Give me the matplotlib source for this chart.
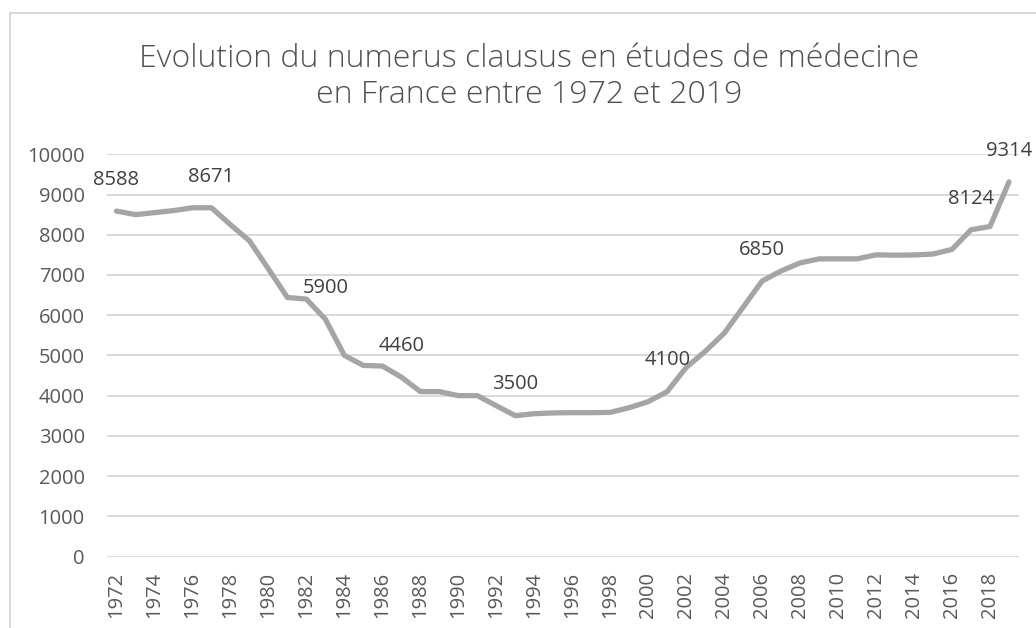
import matplotlib
matplotlib.use("Agg")
import matplotlib.pyplot as plt
from matplotlib.lines import Line2D

# numerus clausus per year
years = list(range(1972, 2020))
numerus = [8588, 8500, 8550, 8600, 8671, 8671, 8250, 7850, 7150, 6440,
           6400, 5900, 5000, 4750, 4736, 4460, 4100, 4100, 4000, 4000,
           3750, 3500, 3550, 3570, 3576, 3576, 3583, 3700, 3850, 4100,
           4700, 5100, 5550, 6200, 6850, 7100, 7300, 7400, 7400, 7400,
           7500, 7492, 7497, 7520, 7636, 8124, 8205, 9314]
labelled_years = [1972, 1977, 1983, 1987, 1993, 2001, 2006, 2017, 2019]
tick_years = list(range(1972, 2019, 2))
y_ticks = list(range(0, 10001, 1000))

title_lines = ["Evolution du numerus clausus en études de médecine",
               "en France entre 1972 et 2019"]

plt.rcParams['font.family'] = ['Open Sans', 'DejaVu Sans']

fig = plt.figure(figsize=(10.36, 6.28), dpi=100)
ax = fig.add_axes([107 / 1036, 1 - 556.5 / 628, (1018.5 - 107) / 1036, (556.5 - 154.3) / 628])

ax.plot(years, numerus, color='#A5A5A5', linewidth=3.8, solid_joinstyle='round',
        solid_capstyle='round', zorder=3)

for yr in labelled_years:
    v = numerus[years.index(yr)]
    ax.annotate(str(v), (yr, v), xytext=(0, 22.5), textcoords='offset points',
                ha='center', va='center', fontsize=14.5, color='#404040',
                annotation_clip=False)

ax.set_xlim(1971.5, 2019.5)
ax.set_ylim(0, 10000)
ax.set_yticks(y_ticks)
ax.set_xticks(tick_years)
ax.set_xticklabels([str(y) for y in tick_years], rotation=90)
ax.tick_params(axis='both', length=0, labelsize=14.5, labelcolor='#595959')
ax.tick_params(axis='x', pad=11)
ax.tick_params(axis='y', pad=16)
ax.grid(axis='y', color='#D9D9D9', linewidth=1.4)
ax.set_axisbelow(True)
for s in ax.spines.values():
    s.set_visible(False)

# title, two lines placed on their baselines
fig.text(529 / 1036, 1 - 67 / 628, title_lines[0], ha='center', va='baseline',
         fontsize=23, color='#505050', fontweight='light')
fig.text(529 / 1036, 1 - 103 / 628, title_lines[1], ha='center', va='baseline',
         fontsize=23, color='#505050', fontweight='light')

# chart area border (top and left edges visible)
fig.add_artist(Line2D([10 / 1036, 1.0], [1 - 13 / 628, 1 - 13 / 628], color='#D9D9D9', linewidth=1.4))
fig.add_artist(Line2D([10 / 1036, 10 / 1036], [1 - 13 / 628, 0.0], color='#D9D9D9', linewidth=1.4))

fig.savefig("out.png", dpi=100)
